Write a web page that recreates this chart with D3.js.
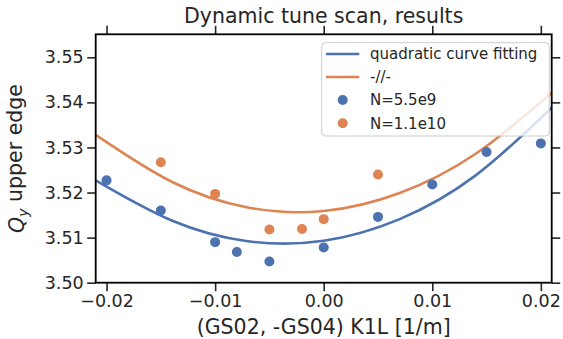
<!DOCTYPE html>
<html>
<head>
<meta charset="utf-8">
<script src="https://cdn.jsdelivr.net/npm/d3@7"></script>
<style>
  body { margin: 0; background: #fff; }
  text { font-family: "DejaVu Sans", sans-serif; fill: #262626; }
</style>
</head>
<body>
<div id="chart"></div>
<script>
// measured points, N=5.5e9
xBlue = [-0.02, -0.015, -0.01, -0.008, -0.005, 0, 0.005, 0.01, 0.015, 0.02];
yBlue = [3.5227, 3.5160, 3.5090, 3.5068, 3.5047, 3.5078, 3.5146, 3.5218, 3.5290, 3.5309];

// measured points, N=1.1e10
xOrange = [-0.015, -0.01, -0.005, -0.002, 0, 0.005];
yOrange = [3.5267, 3.5197, 3.5118, 3.5119, 3.5141, 3.5240];

// fitted curves
fitX = [-0.021, -0.014, -0.007, 0, 0.007, 0.014, 0.021];
fitBlue = [3.5227, 3.5138, 3.5092, 3.5093, 3.5141, 3.5238, 3.5388];
fitOrange = [3.5328, 3.5224, 3.5167, 3.5159, 3.5199, 3.5286, 3.5421];

xTicks = [-0.02, -0.01, 0, 0.01, 0.02];
yTicks = [3.50, 3.51, 3.52, 3.53, 3.54, 3.55];

legendLabels = ["quadratic curve fitting", "-//-", "N=5.5e9", "N=1.1e10"];

var blue = "#4c72b0", orange = "#dd8452";
var W = 563, H = 339;
var pL = 95.7, pR = 551.7, pT = 34.3, pB = 282.7;

var svg = d3.select("#chart").append("svg")
    .attr("width", W).attr("height", H);

var x = d3.scaleLinear().domain([-0.021, 0.021]).range([pL, pR]);
var y = d3.scaleLinear().domain([3.50, 3.5551]).range([pB, pT]);

var fmtX = function (d) { return d3.format(".2f")(d).replace("-", "\u2212"); };
var fmtY = d3.format(".2f");

function styleAxis(g) {
    g.select(".domain").remove();
    g.selectAll(".tick line").attr("stroke", "#262626").attr("stroke-width", 1.6);
    g.selectAll(".tick text").style("font-size", "17.5px").attr("fill", "#262626");
}

svg.append("g").attr("transform", "translate(0," + pB + ")")
    .call(d3.axisBottom(x).tickValues(xTicks).tickFormat(fmtX).tickSize(8.5).tickPadding(3.5))
    .call(styleAxis);
svg.append("g").attr("transform", "translate(0," + pT + ")")
    .call(d3.axisTop(x).tickValues(xTicks).tickFormat("").tickSize(8.5))
    .call(styleAxis);
svg.append("g").attr("transform", "translate(" + pL + ",0)")
    .call(d3.axisLeft(y).tickValues(yTicks).tickFormat(fmtY).tickSize(8.5).tickPadding(3.5))
    .call(styleAxis);
svg.append("g").attr("transform", "translate(" + pR + ",0)")
    .call(d3.axisRight(y).tickValues(yTicks).tickFormat("").tickSize(8.5))
    .call(styleAxis);

svg.append("defs").append("clipPath").attr("id", "clip")
    .append("rect").attr("x", pL).attr("y", pT)
    .attr("width", pR - pL).attr("height", pB - pT);

var plot = svg.append("g").attr("clip-path", "url(#clip)");

var line = d3.line().curve(d3.curveNatural)
    .x(function (d) { return x(d[0]); })
    .y(function (d) { return y(d[1]); });

plot.append("path").datum(d3.zip(fitX, fitBlue))
    .attr("d", line).attr("fill", "none").attr("stroke", blue).attr("stroke-width", 2.6);
plot.append("path").datum(d3.zip(fitX, fitOrange))
    .attr("d", line).attr("fill", "none").attr("stroke", orange).attr("stroke-width", 2.6);

plot.selectAll(".pb").data(d3.zip(xBlue, yBlue)).enter().append("circle")
    .attr("cx", function (d) { return x(d[0]); })
    .attr("cy", function (d) { return y(d[1]); })
    .attr("r", 5).attr("fill", blue);
plot.selectAll(".po").data(d3.zip(xOrange, yOrange)).enter().append("circle")
    .attr("cx", function (d) { return x(d[0]); })
    .attr("cy", function (d) { return y(d[1]); })
    .attr("r", 5).attr("fill", orange);

// spines
svg.append("rect").attr("x", pL).attr("y", pT)
    .attr("width", pR - pL).attr("height", pB - pT)
    .attr("fill", "none").attr("stroke", "#000").attr("stroke-width", 1.8);

// legend
var lg = svg.append("g");
lg.append("rect").attr("x", 321.7).attr("y", 42.7).attr("width", 227.6).attr("height", 93.3)
    .attr("rx", 4).attr("fill", "#fff").attr("fill-opacity", 0.8)
    .attr("stroke", "#cccccc").attr("stroke-width", 1);
var rowY = [54, 77, 100, 123.3];
var colors = [blue, orange, blue, orange];
legendLabels.forEach(function (lab, i) {
    if (i < 2) {
        lg.append("line").attr("x1", 326).attr("x2", 359.3)
            .attr("y1", rowY[i]).attr("y2", rowY[i])
            .attr("stroke", colors[i]).attr("stroke-width", 2.6);
    } else {
        lg.append("circle").attr("cx", 342.7).attr("cy", rowY[i]).attr("r", 5).attr("fill", colors[i]);
    }
    lg.append("text").attr("x", 370).attr("y", rowY[i]).attr("dy", "0.36em")
        .style("font-size", "15px").text(lab);
});

// titles
svg.append("text").attr("x", (pL + pR) / 2).attr("y", 22.5)
    .attr("text-anchor", "middle").style("font-size", "20.5px")
    .text("Dynamic tune scan, results");
svg.append("text").attr("x", (pL + pR) / 2).attr("y", 334)
    .attr("text-anchor", "middle").style("font-size", "20.5px")
    .text("(GS02, -GS04) K1L [1/m]");

var yl = svg.append("text")
    .attr("transform", "translate(24," + ((pT + pB) / 2) + ") rotate(-90)")
    .attr("text-anchor", "middle").style("font-size", "20.5px");
yl.append("tspan").style("font-style", "italic").text("Q");
yl.append("tspan").style("font-style", "italic").style("font-size", "14px").attr("dy", "0.25em").text("y");
yl.append("tspan").attr("dy", "-0.25em").text(" upper edge");
</script>
</body>
</html>
